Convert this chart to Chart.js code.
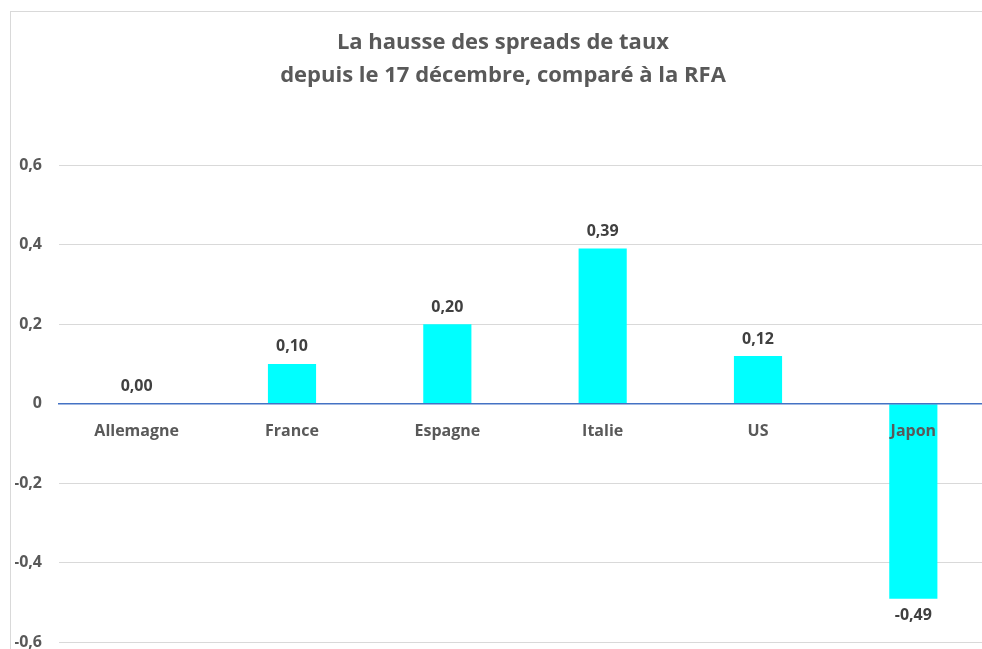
<!DOCTYPE html>
<html>
<head>
<meta charset="utf-8">
<script src="https://cdn.jsdelivr.net/npm/chart.js@4/dist/chart.umd.min.js"></script>
<style>
  html, body { margin: 0; padding: 0; background: #fff; overflow: hidden; width: 982px; height: 649px; }
  #frame { position: absolute; left: 10px; top: 11px; width: 1000px; height: 700px; border: 1px solid #d9d9d9; box-sizing: border-box; }
  #c { position: absolute; left: 0; top: 0; }
</style>
</head>
<body>
<div id="frame"></div>
<canvas id="c" width="1010" height="669"></canvas>
<script>
const titleLines = ["La hausse des spreads de taux", "depuis le 17 décembre, comparé à la RFA"];
const categories = ["Allemagne", "France", "Espagne", "Italie", "US", "Japon"];
const spreadValues = [0.00, 0.10, 0.20, 0.39, 0.12, -0.49];
const spreadLabels = ["0,00", "0,10", "0,20", "0,39", "0,12", "-0,49"];
const yTickValues = [-0.6, -0.4, -0.2, 0, 0.2, 0.4, 0.6];

const FONT = "'Open Sans', 'Noto Sans', sans-serif";
const GRAY = '#595959';

const dataLabelPlugin = {
  id: 'dataLabels',
  afterDatasetsDraw(chart) {
    const ctx = chart.ctx;
    const meta = chart.getDatasetMeta(0);
    ctx.save();
    ctx.font = 'bold 16px ' + FONT;
    ctx.fillStyle = '#404040';
    ctx.textAlign = 'center';
    ctx.textBaseline = 'middle';
    meta.data.forEach((bar, i) => {
      const v = spreadValues[i];
      const y = v >= 0 ? Math.min(bar.y, bar.base) - 17 : Math.max(bar.y, bar.base) + 17;
      ctx.fillText(spreadLabels[i], bar.x, y);
    });
    ctx.restore();
  }
};

new Chart(document.getElementById('c'), {
  type: 'bar',
  data: {
    labels: categories,
    datasets: [{
      data: spreadValues,
      backgroundColor: '#00FFFF',
      borderWidth: 0,
      barPercentage: 0.31,
      categoryPercentage: 1.0
    }]
  },
  options: {
    responsive: false,
    animation: false,
    layout: { padding: { left: 15, right: 19, top: 0, bottom: 10 } },
    plugins: {
      legend: { display: false },
      tooltip: { enabled: false },
      title: {
        display: true,
        text: titleLines,
        color: GRAY,
        font: { family: FONT, size: 22, weight: 'bold', lineHeight: 1.5 },
        padding: { top: 26, bottom: 73 }
      }
    },
    scales: {
      x: {
        type: 'category',
        position: { y: 0 },
        offset: true,
        grid: { display: false, drawTicks: false },
        border: { display: true, color: '#4472C4', width: 1.5, z: 1 },
        ticks: {
          z: 1,
          color: GRAY,
          font: { family: FONT, size: 16, weight: 'bold' },
          padding: 18,
          maxRotation: 0,
          autoSkip: false
        }
      },
      y: {
        min: -0.6,
        max: 0.6,
        afterFit(scale) { scale.width = 44; },
        afterBuildTicks(scale) { scale.ticks = yTickValues.map(v => ({ value: v })); },
        grid: { color: '#d9d9d9', lineWidth: 1, drawTicks: false },
        border: { display: false },
        ticks: {
          color: GRAY,
          font: { family: FONT, size: 16, weight: 'bold' },
          padding: 17,
          callback: (v) => (Math.abs(v) < 1e-9 ? '0' : Number(v).toFixed(1).replace('.', ','))
        }
      }
    }
  },
  plugins: [dataLabelPlugin]
});
</script>
</body>
</html>
